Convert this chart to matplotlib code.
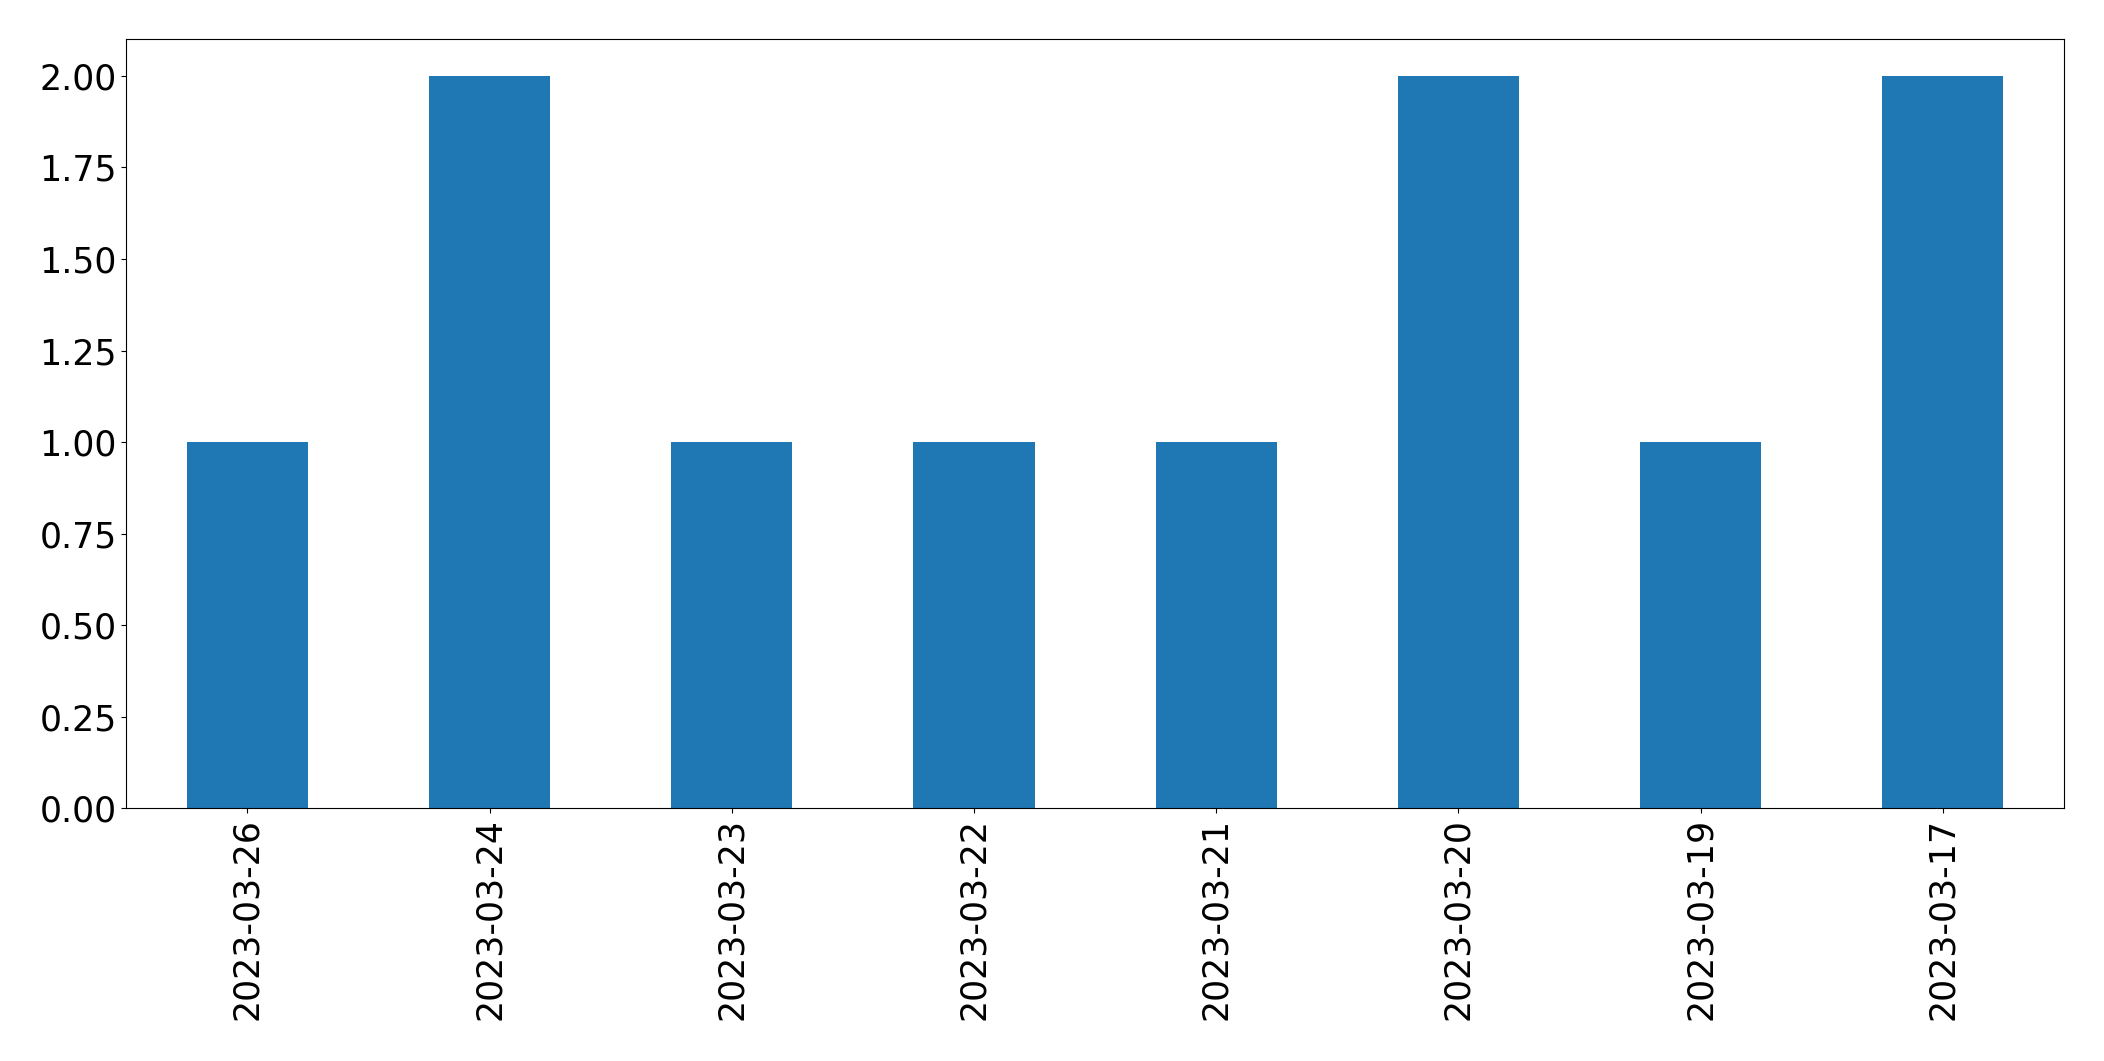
import pandas as pd
import matplotlib
matplotlib.use('Agg')
import matplotlib.pyplot as plt

# daily counts, newest first
dates = ['2023-03-26', '2023-03-24', '2023-03-23', '2023-03-22',
         '2023-03-21', '2023-03-20', '2023-03-19', '2023-03-17']
counts = [1, 2, 1, 1, 1, 2, 1, 2]

s = pd.Series(counts, index=dates)

fig = plt.figure(figsize=(21.04, 10.61), dpi=100)
ax = fig.add_axes([0.0600, 0.238, 0.921, 0.725])
s.plot(kind='bar', ax=ax, color='#1f77b4')
ax.tick_params(axis='both', labelsize=25)
fig.savefig('out.png', dpi=100)
